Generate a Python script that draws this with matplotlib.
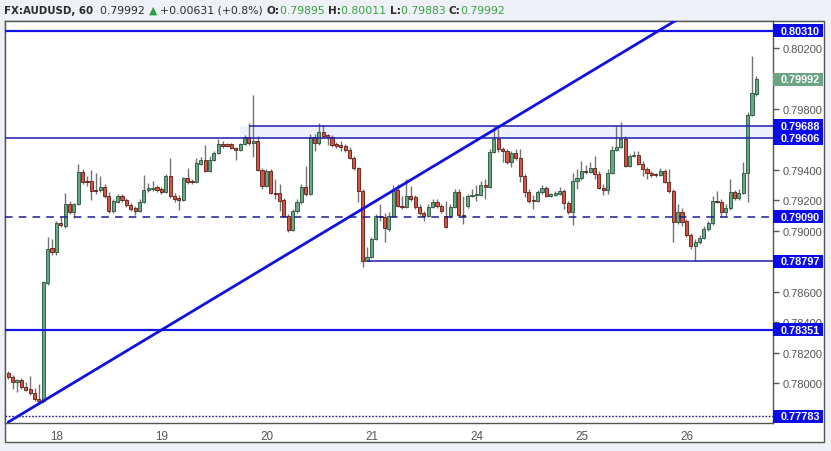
import matplotlib
matplotlib.use('Agg')
import matplotlib.pyplot as plt
import matplotlib.transforms as mtransforms
from matplotlib.patches import Rectangle
import numpy as np

# hourly AUDUSD bars
opens = [
    0.78066, 0.78040, 0.78007, 0.78020, 0.77974, 0.77961, 0.77934, 0.77895,
    0.77882, 0.78656, 0.78886, 0.78859, 0.79049, 0.79030, 0.79174, 0.79121,
    0.79174, 0.79384, 0.79325, 0.79325, 0.79266, 0.79266, 0.79285, 0.79226,
    0.79128, 0.79187, 0.79226, 0.79200, 0.79167, 0.79148, 0.79128, 0.79187,
    0.79266, 0.79272, 0.79285, 0.79272, 0.79252, 0.79357, 0.79226, 0.79213,
    0.79200, 0.79344, 0.79325, 0.79318, 0.79436, 0.79462, 0.79390, 0.79462,
    0.79508, 0.79567, 0.79567, 0.79567, 0.79541, 0.79528, 0.79567, 0.79613,
    0.79574, 0.79587, 0.79396, 0.79292, 0.79390, 0.79246, 0.79246, 0.79200,
    0.79095, 0.79003, 0.79128, 0.79187, 0.79285, 0.79239, 0.79613, 0.79574,
    0.79646, 0.79626, 0.79613, 0.79567, 0.79561, 0.79554, 0.79528, 0.79476,
    0.79410, 0.79259, 0.78800, 0.78826, 0.78945, 0.79095, 0.79089, 0.79010,
    0.79095, 0.79266, 0.79161, 0.79154, 0.79226, 0.79220, 0.79154, 0.79115,
    0.79095, 0.79154, 0.79187, 0.79161, 0.79095, 0.79095, 0.79154, 0.79252,
    0.79102, 0.79161, 0.79226, 0.79233, 0.79233, 0.79298, 0.79285, 0.79515,
    0.79600, 0.79534, 0.79521, 0.79449, 0.79508, 0.79476, 0.79357, 0.79252,
    0.79200, 0.79193, 0.79252, 0.79279, 0.79226, 0.79233, 0.79239, 0.79259,
    0.79180, 0.79121, 0.79325, 0.79344, 0.79390, 0.79384, 0.79410, 0.79370,
    0.79279, 0.79266, 0.79377, 0.79528, 0.79548, 0.79600, 0.79423, 0.79489,
    0.79495, 0.79436, 0.79403, 0.79377, 0.79370, 0.79364, 0.79390, 0.79318,
    0.79259, 0.79056, 0.79121, 0.79062, 0.78971, 0.78899, 0.78925, 0.78951,
    0.79010, 0.79049, 0.79193, 0.79187, 0.79121, 0.79148, 0.79252, 0.79213,
    0.79246, 0.79377, 0.79757, 0.79895,
]
highs = [
    0.78079, 0.78053, 0.78027, 0.78033, 0.78007, 0.78046, 0.77967, 0.77994,
    0.78669, 0.78958, 0.78945, 0.79062, 0.79095, 0.79246, 0.79193, 0.79180,
    0.79436, 0.79403, 0.79357, 0.79396, 0.79377, 0.79357, 0.79305, 0.79252,
    0.79207, 0.79239, 0.79239, 0.79213, 0.79180, 0.79161, 0.79207, 0.79364,
    0.79312, 0.79325, 0.79298, 0.79285, 0.79370, 0.79476, 0.79246, 0.79233,
    0.79351, 0.79410, 0.79338, 0.79476, 0.79482, 0.79561, 0.79489, 0.79521,
    0.79600, 0.79587, 0.79574, 0.79574, 0.79548, 0.79574, 0.79626, 0.79702,
    0.79889, 0.79620, 0.79410, 0.79403, 0.79403, 0.79338, 0.79305, 0.79213,
    0.79108, 0.79141, 0.79207, 0.79305, 0.79423, 0.79633, 0.79633, 0.79707,
    0.79691, 0.79633, 0.79626, 0.79581, 0.79587, 0.79567, 0.79548, 0.79489,
    0.79416, 0.79272, 0.78893, 0.78958, 0.79108, 0.79174, 0.79115, 0.79121,
    0.79298, 0.79305, 0.79226, 0.79338, 0.79292, 0.79233, 0.79174, 0.79128,
    0.79174, 0.79207, 0.79207, 0.79174, 0.79193, 0.79174, 0.79272, 0.79272,
    0.79226, 0.79239, 0.79272, 0.79298, 0.79325, 0.79338, 0.79534, 0.79685,
    0.79666, 0.79548, 0.79534, 0.79521, 0.79534, 0.79534, 0.79370, 0.79272,
    0.79233, 0.79266, 0.79298, 0.79292, 0.79246, 0.79259, 0.79285, 0.79272,
    0.79193, 0.79377, 0.79403, 0.79456, 0.79430, 0.79449, 0.79489, 0.79390,
    0.79305, 0.79403, 0.79554, 0.79685, 0.79712, 0.79620, 0.79502, 0.79521,
    0.79521, 0.79456, 0.79416, 0.79390, 0.79377, 0.79410, 0.79403, 0.79403,
    0.79272, 0.79174, 0.79148, 0.79075, 0.78985, 0.78945, 0.78971, 0.79030,
    0.79062, 0.79226, 0.79259, 0.79207, 0.79174, 0.79338, 0.79266, 0.79272,
    0.79449, 0.79777, 0.80144, 0.80011,
]
lows = [
    0.78027, 0.77961, 0.77941, 0.77961, 0.77947, 0.77921, 0.77882, 0.77869,
    0.77869, 0.78643, 0.78839, 0.78839, 0.79023, 0.79016, 0.79108, 0.79082,
    0.79167, 0.79305, 0.79292, 0.79200, 0.79239, 0.79252, 0.79213, 0.79115,
    0.79115, 0.79180, 0.79187, 0.79154, 0.79128, 0.79102, 0.79121, 0.79180,
    0.79252, 0.79259, 0.79252, 0.79239, 0.79246, 0.79213, 0.79187, 0.79134,
    0.79193, 0.79305, 0.79305, 0.79312, 0.79430, 0.79384, 0.79384, 0.79456,
    0.79502, 0.79541, 0.79548, 0.79534, 0.79462, 0.79521, 0.79561, 0.79561,
    0.79482, 0.79390, 0.79272, 0.79285, 0.79239, 0.79207, 0.79128, 0.79089,
    0.78990, 0.78997, 0.79115, 0.79174, 0.79226, 0.79233, 0.79521, 0.79561,
    0.79607, 0.79561, 0.79548, 0.79541, 0.79521, 0.79515, 0.79469, 0.79396,
    0.79187, 0.78761, 0.78797, 0.78819, 0.78938, 0.79062, 0.78925, 0.78997,
    0.79089, 0.79154, 0.79141, 0.79148, 0.79193, 0.79141, 0.79102, 0.79062,
    0.79089, 0.79148, 0.79148, 0.79115, 0.79016, 0.79082, 0.79148, 0.79089,
    0.79043, 0.79148, 0.79220, 0.79193, 0.79226, 0.79207, 0.79279, 0.79508,
    0.79515, 0.79449, 0.79436, 0.79416, 0.79462, 0.79318, 0.79220, 0.79180,
    0.79141, 0.79187, 0.79239, 0.79220, 0.79220, 0.79226, 0.79233, 0.79141,
    0.79108, 0.79036, 0.79272, 0.79331, 0.79370, 0.79377, 0.79338, 0.79272,
    0.79233, 0.79239, 0.79370, 0.79521, 0.79541, 0.79416, 0.79416, 0.79482,
    0.79430, 0.79357, 0.79338, 0.79351, 0.79351, 0.79357, 0.79312, 0.79246,
    0.78925, 0.79043, 0.79030, 0.78958, 0.78879, 0.78797, 0.78912, 0.78945,
    0.78997, 0.79036, 0.79180, 0.79089, 0.79089, 0.79134, 0.79200, 0.79200,
    0.79239, 0.79187, 0.79751, 0.79883,
]
closes = [
    0.78040, 0.78007, 0.78020, 0.77974, 0.77954, 0.77934, 0.77895, 0.77882,
    0.78662, 0.78879, 0.78859, 0.79049, 0.79036, 0.79174, 0.79121, 0.79174,
    0.79384, 0.79318, 0.79318, 0.79259, 0.79259, 0.79285, 0.79226, 0.79128,
    0.79193, 0.79226, 0.79200, 0.79167, 0.79141, 0.79128, 0.79187, 0.79266,
    0.79279, 0.79279, 0.79266, 0.79252, 0.79357, 0.79226, 0.79207, 0.79200,
    0.79344, 0.79318, 0.79318, 0.79443, 0.79462, 0.79390, 0.79462, 0.79508,
    0.79567, 0.79554, 0.79554, 0.79541, 0.79528, 0.79567, 0.79613, 0.79574,
    0.79587, 0.79396, 0.79292, 0.79390, 0.79246, 0.79239, 0.79193, 0.79095,
    0.79003, 0.79128, 0.79187, 0.79285, 0.79239, 0.79613, 0.79574, 0.79646,
    0.79620, 0.79613, 0.79561, 0.79554, 0.79548, 0.79528, 0.79476, 0.79410,
    0.79259, 0.78800, 0.78826, 0.78945, 0.79095, 0.79089, 0.79016, 0.79095,
    0.79259, 0.79161, 0.79154, 0.79226, 0.79207, 0.79154, 0.79115, 0.79095,
    0.79154, 0.79187, 0.79161, 0.79128, 0.79023, 0.79154, 0.79252, 0.79102,
    0.79095, 0.79226, 0.79233, 0.79239, 0.79298, 0.79285, 0.79515, 0.79600,
    0.79534, 0.79521, 0.79449, 0.79508, 0.79476, 0.79357, 0.79252, 0.79193,
    0.79193, 0.79252, 0.79279, 0.79226, 0.79239, 0.79246, 0.79259, 0.79180,
    0.79121, 0.79325, 0.79344, 0.79390, 0.79384, 0.79410, 0.79370, 0.79279,
    0.79266, 0.79377, 0.79528, 0.79548, 0.79600, 0.79423, 0.79489, 0.79495,
    0.79436, 0.79403, 0.79377, 0.79364, 0.79364, 0.79390, 0.79318, 0.79259,
    0.79056, 0.79121, 0.79056, 0.78971, 0.78899, 0.78925, 0.78951, 0.79010,
    0.79049, 0.79193, 0.79187, 0.79121, 0.79148, 0.79252, 0.79213, 0.79246,
    0.79377, 0.79757, 0.79902, 0.79992,
]

day_labels = ['18', '19', '20', '21', '24', '25', '26']
first_day_bar = 11
bars_per_day = 24

# 0.80000 and 0.79600 sit under the price tags, so they are left out
ytick_values = [0.802, 0.798, 0.794, 0.792, 0.790,
                0.786, 0.784, 0.782, 0.780]

# drawn levels
top_line = 0.80310
zone_top = 0.79688
zone_bottom = 0.79606
zone_start_bar = 53
zone_line_bar = 55
dashed_level = 0.79090
support_level = 0.78797
support_start_bar = 82
low_line = 0.78351
dotted_level = 0.77783
trend_bars = [0, 150]
trend_prices = [0.77744, 0.80333]

title_parts = [
    ('FX:AUDUSD, 60  ', '#2b2b2b', 'bold', 7.4),
    ('0.79992 ', '#2b2b2b', 'normal', 7.8),
    ('\u25b2 ', '#2e9e3e', 'normal', 7.8),
    ('+0.00631 (+0.8%) ', '#2b2b2b', 'normal', 7.8),
    ('O:', '#2b2b2b', 'bold', 7.6),
    ('0.79895 ', '#37a33f', 'normal', 7.8),
    ('H:', '#2b2b2b', 'bold', 7.6),
    ('0.80011 ', '#37a33f', 'normal', 7.8),
    ('L:', '#2b2b2b', 'bold', 7.6),
    ('0.79883 ', '#37a33f', 'normal', 7.8),
    ('C:', '#2b2b2b', 'bold', 7.6),
    ('0.79992', '#37a33f', 'normal', 7.8),
]

W, H = 831, 452
fig = plt.figure(figsize=(W / 100, H / 100), dpi=100, facecolor='#eef1f8')

# white chart panel with border (plot + price scale + time scale)
panel = Rectangle((5 / W, 1 - 443 / H), 819 / W, 421 / H, transform=fig.transFigure,
                  facecolor='white', edgecolor='#555555', linewidth=1, zorder=-5)
fig.patches.append(panel)

ax = fig.add_axes([5 / W, 1 - 424 / H, 768 / W, 402 / H])
ax.set_zorder(2)
ax.set_facecolor('white')

x = np.arange(len(opens))
o = np.array(opens)
h = np.array(highs)
l = np.array(lows)
c = np.array(closes)
up = c >= o

ax.vlines(x, l, h, color='#737375', linewidth=1, zorder=2)
body_bottom = np.minimum(o, c)
body_height = np.maximum(np.abs(c - o), 0.00004)
ax.bar(x[up], body_height[up], bottom=body_bottom[up], width=0.72,
       color='#6ba583', edgecolor='#225437', linewidth=0.6, zorder=3)
ax.bar(x[~up], body_height[~up], bottom=body_bottom[~up], width=0.72,
       color='#d75442', edgecolor='#5b1a13', linewidth=0.6, zorder=3)

xmin, xmax = -0.75, 174.8
ax.set_xlim(xmin, xmax)
ax.set_ylim(0.77738, 0.80374)

# resistance zone
ax.fill_between([zone_start_bar, xmax], zone_bottom, zone_top, color='#eef0fc', zorder=1)
ax.hlines(zone_top, zone_line_bar, xmax, color='#1d1db0', linewidth=1.1, zorder=4)
ax.axhline(zone_bottom, color='#1d1db0', linewidth=1.1, zorder=4)

ax.axhline(top_line, color='#1414e6', linewidth=1.6, zorder=4)
ax.axhline(low_line, color='#1414e6', linewidth=1.6, zorder=4)
ax.axhline(dashed_level, color='#1d1d8c', linewidth=1.1, linestyle=(0, (5, 4)), zorder=4)
ax.hlines(support_level, support_start_bar, xmax, color='#1d1db0', linewidth=1.1, zorder=4)
ax.axhline(dotted_level, color='#1d1d8c', linewidth=1, linestyle=(0, (1.2, 1.2)), zorder=4)

# rising trendline
slope = (trend_prices[1] - trend_prices[0]) / (trend_bars[1] - trend_bars[0])
tx = np.array([trend_bars[0], 170])
ax.plot(tx, trend_prices[0] + slope * (tx - trend_bars[0]), color='#1010e0',
        linewidth=2, zorder=5, solid_capstyle='round')

# axes styling
for s in ax.spines.values():
    s.set_color('#555555')
    s.set_linewidth(1)

ax.yaxis.tick_right()
ax.set_yticks(ytick_values)
ax.set_yticklabels(['%.5f' % v for v in ytick_values])
ax.tick_params(axis='y', which='both', length=4, width=1, color='#555555',
               labelcolor='#555555', labelsize=8, pad=3, left=False)
for lab in ax.get_yticklabels():
    lab.set_fontfamily('Liberation Sans')

day_pos = [first_day_bar + bars_per_day * k for k in range(len(day_labels))]
ax.set_xticks(day_pos)
ax.set_xticklabels(day_labels)
ax.tick_params(axis='x', length=0, labelcolor='#555555', labelsize=8.4, pad=5)
for lab in ax.get_xticklabels():
    lab.set_fontfamily('Liberation Sans')

# price labels on the scale
trans = mtransforms.blended_transform_factory(ax.transAxes, ax.transData)
box_w = 50 / 768
y_per_px = (0.80374 - 0.77738) / 402
box_h = 13 * y_per_px


def price_tag(price, bg):
    ax.add_patch(Rectangle((1.0, price - box_h / 2), box_w, box_h, transform=trans,
                           facecolor=bg, edgecolor='none', clip_on=False, zorder=10))
    ax.text(1 + 7.5 / 768, price, '%.5f' % price, transform=trans, color='white',
            fontsize=7.8, fontweight='bold', fontfamily='Liberation Sans',
            va='center', ha='left', clip_on=False, zorder=11)


for lvl in [top_line, zone_top, zone_bottom, dashed_level, support_level, low_line, dotted_level]:
    price_tag(lvl, '#0b0bea')
price_tag(closes[-1], '#6ba583')

# title line
fig.canvas.draw()
r = fig.canvas.get_renderer()
tx0 = 4
for txt, col, wt, fs in title_parts:
    t = fig.text(tx0 / W, 1 - 10.5 / H, txt, color=col, fontweight=wt, fontsize=fs,
                 fontfamily='DejaVu Sans', va='center', ha='left')
    bb = t.get_window_extent(r)
    tx0 = bb.x1

fig.savefig('out.png', dpi=100, facecolor=fig.get_facecolor())
